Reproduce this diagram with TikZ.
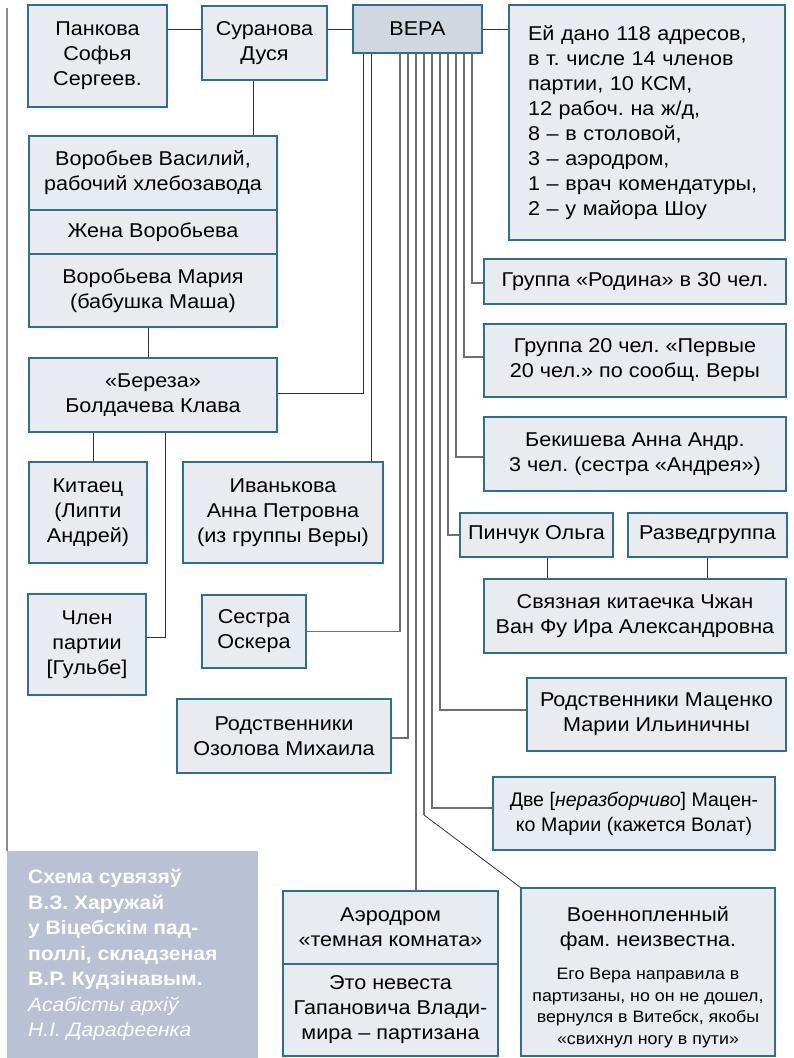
\documentclass[tikz,border=0pt]{standalone}
\usepackage{fontspec}
\setmainfont{Liberation Sans}[FakeStretch=1.08]
\newfontfamily\plainsans{Liberation Sans}
\frenchspacing
\definecolor{boxfill}{HTML}{E8EBF0}
\definecolor{verafill}{HTML}{D0D7E1}
\definecolor{boxline}{HTML}{2E6E8E}
\definecolor{capfill}{HTML}{B8C2D4}
\definecolor{conn}{HTML}{333333}
\definecolor{bundle}{HTML}{6E6E6E}
\definecolor{leftline}{HTML}{8A8A8A}
\newcommand{\mainsz}{\fontsize{20}{25}\selectfont}
\newcommand{\dvesz}{\plainsans\fontsize{19.6}{25}\selectfont}
\newcommand{\capsz}{\fontsize{19.5}{25.5}\selectfont}
\newcommand{\smallsz}{\fontsize{16.5}{21.5}\selectfont}
\tikzset{
  bx/.style={draw=boxline, fill=boxfill, line width=1.1pt, inner sep=0pt, align=center, font=\mainsz},
  verabox/.style={bx, fill=verafill},
  capbox/.style={fill=capfill, inner sep=0pt},
  captext/.style={text=white, font=\capsz, align=left, inner sep=0pt, anchor=west},
  intext/.style={inner sep=0pt, align=center},
  cn/.style={draw=conn, line width=0.9pt},
  bl/.style={draw=bundle, line width=1.2pt},
}
\begin{document}
\begin{tikzpicture}[x=1pt,y=-1pt]
\useasboundingbox (0,0) rectangle (794,1058);
\fill[white] (0,0) rectangle (794,1058);

% left rule and caption
\coordinate (lt) at (7,8);
\node[capbox, minimum width=251, minimum height=207, anchor=north west] (cap) at (7,851) {};
\draw[leftline, line width=1.2pt] (lt) -- (cap.north west);
\node[captext] (captxt) at (28,955) {\textbf{Схема сувязяў}\\\textbf{В.З. Харужай}\\\textbf{у Віцебскім пад-}\\\textbf{поллі, складзеная}\\\textbf{В.Р. Кудзінавым.}\\\textit{Асабісты архіў}\\\textit{Н.І. Дарафеенка}};

% boxes
\node[bx, minimum width=139, minimum height=102] (pank) at (97.5,56) {Панкова\\Софья\\Сергеев.};
\node[bx, minimum width=125, minimum height=74] (sur) at (264.5,43) {Суранова\\Дуся};
\node[verabox, minimum width=129, minimum height=48] (vera) at (417.5,29) {ВЕРА};
\node[bx, minimum width=276, minimum height=235, text width=238, align=left, inner xsep=19] (addr) at (647,122.5) {Ей дано 118 адресов,\\в т. числе 14 членов\\партии, 10 КСМ,\\12 рабоч. на ж/д,\\8 – в столовой,\\3 – аэродром,\\1 – врач комендатуры,\\2 – у майора Шоу};

\node[bx, minimum width=248, minimum height=74] (vor1) at (153,173) {Воробьев Василий,\\рабочий хлебозавода};
\node[bx, minimum width=248, minimum height=44] (vor2) at (153,232) {Жена Воробьева};
\node[bx, minimum width=248, minimum height=73] (vor3) at (153,290.5) {Воробьева Мария\\(бабушка Маша)};
\node[bx, minimum width=248, minimum height=74] (ber) at (153,395) {«Береза»\\Болдачева Клава};
\node[bx, minimum width=118, minimum height=101] (kit) at (88,512.5) {Китаец\\(Липти\\Андрей)};
\node[bx, minimum width=200, minimum height=101] (ivan) at (283,512.5) {Иванькова\\Анна Петровна\\(из группы Веры)};
\node[bx, minimum width=118, minimum height=101] (chlen) at (87,644.5) {Член\\партии\\{[}Гульбе{]}};
\node[bx, minimum width=104, minimum height=73] (sestra) at (254,631.5) {Сестра\\Оскера};
\node[bx, minimum width=214, minimum height=74] (ozol) at (284,736) {Родственники\\Озолова Михаила};

\node[bx, minimum width=302, minimum height=45] (rod) at (635,281.5) {Группа «Родина» в 30 чел.};
\node[bx, minimum width=302, minimum height=73] (g20) at (635,360.5) {Группа 20 чел. «Первые\\20 чел.» по сообщ. Веры};
\node[bx, minimum width=302, minimum height=74] (bek) at (635,454) {Бекишева Анна Андр.\\3 чел. (сестра «Андрея»)};
\node[bx, minimum width=153, minimum height=44] (pin) at (536.5,535) {Пинчук Ольга};
\node[bx, minimum width=159, minimum height=44] (razv) at (707.5,535) {Разведгруппа};
\node[bx, minimum width=302, minimum height=74] (svyaz) at (635,616) {Связная китаечка Чжан\\Ван Фу Ира Александровна};
\node[bx, minimum width=259, minimum height=73] (mats) at (656.5,714.5) {Родственники Маценко\\Марии Ильиничны};
\node[bx, minimum width=282, minimum height=73, font=\dvesz] (dve) at (634,813.5) {Две [\textit{неразборчиво}] Мацен-\\ко Марии (кажется Волат)};
\node[bx, minimum width=215, minimum height=73] (aero1) at (390.5,927.5) {Аэродром\\«темная комната»};
\node[bx, minimum width=215, minimum height=92] (aero2) at (390.5,1010) {Это невеста\\Гапановича Влади-\\мира – партизана};
\node[bx, minimum width=254, minimum height=168] (voen) at (648,972) {};
\node[intext, font=\mainsz] (voenT) at (648,929) {Военнопленный\\фам. неизвестна.};
\node[intext, font=\smallsz] (voenS) at (648,1008) {Его Вера направила в\\партизаны, но он не дошел,\\вернулся в Витебск, якобы\\«свихнул ногу в пути»};

% top connectors
\draw[cn] (pank.east |- vera.west) -- (sur.west |- vera.west);
\draw[cn] (sur.east |- vera.west) -- (vera.west);
\draw[cn] (vera.east) -- (addr.west |- vera.east);
\draw[cn] (sur.south -| 253,0) -- (vor1.north -| 253,0);
\draw[cn] (vor3.south -| 148,0) -- (ber.north -| 148,0);
\draw[cn] (ber.south -| 93,0) -- (kit.north -| 93,0);
\draw[cn] (ber.south -| 165,0) |- (chlen.east |- 0,637);
\draw[cn] (pin.south -| 547,0) -- (svyaz.north -| 547,0);
\draw[cn] (razv.south -| 707,0) -- (svyaz.north -| 707,0);

% connectors from VERA
\draw[cn] (vera.south -| 363,0) |- (ber.east |- 0,393);
\draw[cn] (vera.south -| 371,0) -- (ivan.north -| 371,0);
\draw[bl] (vera.south -| 400,0) |- (sestra.east);
\draw[bl] (vera.south -| 408,0) |- (ozol.east |- 0,738);
\draw[bl] (vera.south -| 416,0) -- (aero1.north -| 416,0);
\coordinate (bend) at (424,815);
\draw[bl] (vera.south -| 424,0) -- (bend);
\draw[conn, line width=0.8pt] (bend) -- (voen.north west);
\draw[bl] (vera.south -| 432,0) |- (dve.west |- 0,808);
\draw[bl] (vera.south -| 440,0) |- (mats.west |- 0,710);
\draw[bl] (vera.south -| 448,0) |- (pin.west);
\draw[bl] (vera.south -| 456,0) |- (bek.west |- 0,457);
\draw[bl] (vera.south -| 464,0) |- (g20.west |- 0,357);
\draw[bl] (vera.south -| 472,0) |- (rod.west |- 0,283);
\end{tikzpicture}
\end{document}
